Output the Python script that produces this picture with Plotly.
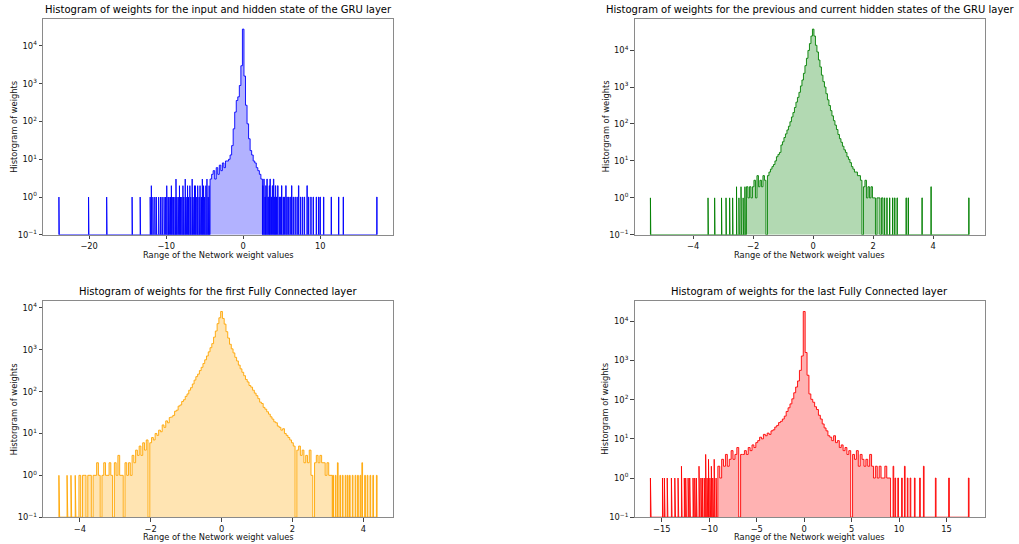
import math
import plotly.graph_objects as go

# ---------------------------------------------------------------------------
# Histogram counts per layer.  Each layer has a contiguous run of bins
# (centre of first bin, bin width, counts) and a set of isolated narrow bins
# in the sparse tails.
# ---------------------------------------------------------------------------

# GRU layer, input and hidden state weights (blue)
GRU_IH_START = -4.2
GRU_IH_WIDTH = 0.2
GRU_IH_COUNTS = [
    3, 4, 5, 3, 6, 4, 7, 5, 8, 6,
    9, 9, 10, 13, 23, 64, 178, 360, 450, 900,
    3000,
    28000,
    1600, 270, 87, 35, 17, 13, 9, 8, 6, 5,
    4, 3,
]
GRU_IH_OUT_X = [
    -23.9, -20.05, -17.7, -14.4, -13.35, -12.05, -11.9, -11.7, -11.45,
    -11.25, -10.95, -10.7, -10.5, -10.25, -10.05, -9.9, -9.72, -9.6, -9.42,
    -9.3, -9.12, -9.0, -8.82, -8.7, -8.58, -8.4, -8.25, -8.12, -7.95, -7.8,
    -7.68, -7.5, -7.38, -7.2, -7.08, -6.9, -6.78, -6.6, -6.48, -6.3, -6.18,
    -6.0, -5.88, -5.7, -5.58, -5.4, -5.28, -5.12, -4.98, -4.82, -4.68,
    -4.52, -4.4,
    2.55, 2.7, 2.85, 2.95, 3.1, 3.25, 3.4, 3.5, 3.65, 3.8, 3.95, 4.1,
    4.2, 4.35, 4.5, 4.7, 4.85, 5.0, 5.2, 5.35, 5.55, 5.7, 5.9, 6.1, 6.3,
    6.5, 6.75, 7.0, 7.2, 7.45, 7.7, 7.95, 8.3, 8.5, 8.8, 9.1, 9.5, 9.8,
    10.0, 10.45, 11.44, 12.4, 13.0, 17.36,
]
GRU_IH_OUT_N = [
    1, 1, 1, 1, 1, 1, 2, 1, 1,
    1, 1, 1, 1, 1, 1, 2, 1, 1, 1,
    2, 1, 1, 1, 3, 1, 1, 2, 1, 1, 2,
    1, 3, 1, 2, 1, 2, 1, 3, 1, 2, 2,
    1, 2, 1, 2, 1, 3, 2, 1, 2, 3,
    1, 2,
    2, 3, 1, 2, 3, 1, 2, 3, 1, 2, 3, 1,
    2, 1, 2, 1, 1, 2, 1, 1, 2, 1, 1, 1, 2,
    1, 1, 1, 2, 1, 1, 1, 2, 1, 1, 1, 1, 1,
    1, 1, 1, 1, 1, 1,
]
GRU_IH_OUT_WIDTH = 0.05

# GRU layer, previous and current hidden state weights (green)
GRU_HH_START = -2.2
GRU_HH_WIDTH = 0.05
GRU_HH_COUNTS = [
    2, 1, 2, 1, 2, 3, 1, 4, 2, 3, 2, 4, 3, 0,
    4, 5, 6, 7, 8, 10, 13, 15, 17, 27, 33,
    43, 54, 69, 87, 115, 155, 204, 280, 390, 525,
    720, 1070, 1550, 2350, 3800, 6000, 9800, 15000, 24000,
    37000,
    24000, 13500, 8900, 5400, 3500, 2100, 1400, 1000, 660, 450,
    316, 230, 166, 123, 93, 71, 52, 40, 32, 25,
    20, 17, 13, 11, 9, 7, 6, 5, 5, 4,
    4, 3, 0, 2, 3, 1, 2, 1, 2, 1,
    1, 0, 1, 1, 0, 1,
]
GRU_HH_OUT_X = [-5.42, -3.50, -3.28, -3.05, -2.90, -2.78, -2.68, -2.55,
                -2.47, -2.40, -2.33, -2.27, 2.38, 2.46, 2.55, 2.65, 2.72,
                2.80, 3.10, 3.17, 3.63, 3.93, 5.19]
GRU_HH_OUT_N = [1, 1, 1, 1, 1, 1, 1, 2, 1, 2, 1, 2,
                1, 1, 1, 1, 1, 1, 1, 1, 1, 2, 1]
GRU_HH_OUT_WIDTH = 0.012

# First fully connected layer (orange)
FC1_START = -4.0
FC1_WIDTH = 0.05
FC1_COUNTS = [
    1, 0, 1, 1, 0, 1, 1, 0, 1, 1, 2, 1, 0, 1, 2, 1, 1, 2, 1, 0,
    2, 1, 3, 1,
    1, 0, 2, 1, 2, 1, 3, 2, 4, 3,
    5, 3, 6, 4, 7, 0, 6, 8, 7, 10,
    9, 12, 11, 16, 14, 20, 18, 24, 25, 27,
    34, 36, 45, 48, 58, 64, 77, 88, 108, 124,
    152, 188, 228, 262, 318, 380, 468, 575, 710, 890,
    1120, 1400, 2000, 2800, 4200, 5800,
    8200,
    5600, 4100, 2700, 1900, 1350, 1050, 840, 660, 540, 430,
    350, 290, 240, 195, 170, 140, 128, 108, 92, 80,
    68, 56, 52, 42, 38, 33, 29, 25, 22, 19,
    18, 15, 14, 12, 13, 10, 9, 8, 7, 6,
    5, 0, 4, 5, 3, 4, 2, 3, 2, 4,
    1, 0, 2, 3, 2, 3, 2, 2, 1, 2,
    1, 1,
]
FC1_OUT_X = [-4.58, -4.35, -4.24, -4.12, 3.15, 3.22, 3.28, 3.35, 3.42, 3.50,
             3.56, 3.62, 3.70, 3.78, 3.85, 3.92, 3.97, 4.05, 4.12, 4.20,
             4.28, 4.38]
FC1_OUT_N = [1, 1, 1, 1, 1, 1, 2, 1, 1, 1,
             1, 1, 1, 1, 1, 1, 2, 1, 1, 1,
             1, 1]
FC1_OUT_WIDTH = 0.02

# Last fully connected layer (red)
FC2_START = -9.0
FC2_WIDTH = 0.2
FC2_COUNTS = [
    2, 1, 3, 2, 4, 2, 3, 5, 3, 4,
    6, 0, 4, 4, 5, 4, 6, 5, 7, 6,
    8, 9, 11, 10, 13, 12, 14, 13, 16, 17,
    20, 22, 26, 28, 32, 38, 50, 62, 78, 105,
    150, 210, 300, 560, 1300,
    17800,
    1600, 420, 140, 102, 86, 66, 56, 40, 32, 24,
    19, 16, 12, 11, 9, 12, 8, 9, 6, 7,
    5, 6, 4, 5, 0, 4, 3, 5, 2, 4,
    3, 2, 3, 2, 4, 2, 1, 2, 1, 2,
    1, 1, 2, 1, 1,
]
FC2_OUT_X = [-16.17, -14.9, -14.7, -14.4, -13.96, -13.6, -13.26, -12.9,
             -12.6, -12.45, -12.2, -12.03, -11.68, -11.5, -11.33, -11.05,
             -10.85, -10.7, -10.5, -10.35, -10.2, -10.05, -9.9, -9.75,
             -9.6, -9.45, -9.25,
             9.4, 9.6, 9.9, 10.3, 10.6, 10.9, 11.2, 11.65, 12.2, 12.6,
             13.86, 15.26, 17.34]
FC2_OUT_N = [1, 1, 1, 1, 1, 1, 1, 2, 1, 1, 1, 1, 1, 1, 1, 2,
             1, 1, 1, 4, 1, 3, 1, 2, 1, 3, 1,
             2, 1, 1, 1, 2, 1, 1, 1, 1, 2, 1, 1, 1]
FC2_OUT_WIDTH = 0.07

# Tick labels
X_TICKS_GRU_IH = [-20, -10, 0, 10]
X_TICKS_GRU_HH = [-4, -2, 0, 2, 4]
X_TICKS_FC1 = [-4, -2, 0, 2, 4]
X_TICKS_FC2 = [-15, -10, -5, 0, 5, 10, 15]
Y_TICK_VALUES = [0.1, 1, 10, 100, 1000, 10000]
Y_TICK_TEXT = ["10<sup>\u22121</sup>", "10<sup>0</sup>", "10<sup>1</sup>",
               "10<sup>2</sup>", "10<sup>3</sup>", "10<sup>4</sup>"]

TITLES = [
    "Histogram of weights for the input and hidden state of the GRU layer",
    "Histogram of weights for the previous and current hidden states of the GRU layer",
    "Histogram of weights for the first Fully Connected layer",
    "Histogram of weights for the last Fully Connected layer",
]
X_LABEL = "Range of the Network weight values"
Y_LABEL = "Historgram of weights"

FLOOR = 0.1  # bottom of the log axis; empty bins fall to it

# ---------------------------------------------------------------------------
W, H = 1019, 544


def px_domain(a, b, total):
    return [a / total, b / total]


# subplot boxes in pixels: (left, right, top, bottom)
BOXES = [
    (43, 393, 19, 237),
    (634.5, 985, 19, 237),
    (43, 393, 304, 522),
    (634.5, 985, 304, 522),
]

PANELS = [
    dict(start=GRU_IH_START, width=GRU_IH_WIDTH, counts=GRU_IH_COUNTS,
         out_x=GRU_IH_OUT_X, out_n=GRU_IH_OUT_N, out_w=GRU_IH_OUT_WIDTH,
         ticks=X_TICKS_GRU_IH, rgb=(0, 0, 255)),
    dict(start=GRU_HH_START, width=GRU_HH_WIDTH, counts=GRU_HH_COUNTS,
         out_x=GRU_HH_OUT_X, out_n=GRU_HH_OUT_N, out_w=GRU_HH_OUT_WIDTH,
         ticks=X_TICKS_GRU_HH, rgb=(0, 128, 0)),
    dict(start=FC1_START, width=FC1_WIDTH, counts=FC1_COUNTS,
         out_x=FC1_OUT_X, out_n=FC1_OUT_N, out_w=FC1_OUT_WIDTH,
         ticks=X_TICKS_FC1, rgb=(255, 165, 0)),
    dict(start=FC2_START, width=FC2_WIDTH, counts=FC2_COUNTS,
         out_x=FC2_OUT_X, out_n=FC2_OUT_N, out_w=FC2_OUT_WIDTH,
         ticks=X_TICKS_FC2, rgb=(255, 0, 0)),
]


def collect_bins(p):
    bins = []
    for i, c in enumerate(p["counts"]):
        centre = p["start"] + i * p["width"]
        bins.append((centre - p["width"] / 2, centre + p["width"] / 2, c))
    for x, n in zip(p["out_x"], p["out_n"]):
        bins.append((x - p["out_w"] / 2, x + p["out_w"] / 2, n))
    bins.sort(key=lambda b: b[0])
    return bins


def step_path(bins):
    xs, ys = [], []
    prev_right = None
    for left, right, c in bins:
        h = c if c > 0 else FLOOR
        if prev_right is None:
            xs.append(left)
            ys.append(FLOOR)
        elif left > prev_right + 1e-9:
            xs += [prev_right, left]
            ys += [FLOOR, FLOOR]
        xs += [left, right]
        ys += [h, h]
        prev_right = right
    xs.append(prev_right)
    ys.append(FLOOR)
    return xs, ys


def fmt_tick(v):
    return ("\u2212" + str(abs(v))) if v < 0 else str(v)


fig = go.Figure()
annotations = []
axis_line = "#8a8a8a"

for k, (p, box) in enumerate(zip(PANELS, BOXES)):
    n = "" if k == 0 else str(k + 1)
    bins = collect_bins(p)
    xs, ys = step_path(bins)
    r, g, b = p["rgb"]
    fig.add_trace(go.Scatter(
        x=xs, y=ys, mode="lines", fill="toself",
        fillcolor=f"rgba({r},{g},{b},0.3)",
        line=dict(color=f"rgba({r},{g},{b},0.9)", width=1),
        xaxis="x" + n, yaxis="y" + n, hoverinfo="skip", showlegend=False,
    ))

    lo = min(bb[0] for bb in bins)
    hi = max(bb[1] for bb in bins)
    pad = 0.05 * (hi - lo)
    top = math.log10(max(bb[2] for bb in bins))
    top += 0.05 * (top - math.log10(FLOOR))

    left, right, ytop, ybot = box
    xdom = px_domain(left, right, W)
    ydom = [1 - ybot / H, 1 - ytop / H]

    common = dict(showline=True, linecolor=axis_line, linewidth=1, mirror=True,
                  ticks="outside", ticklen=3.5, tickwidth=1, tickcolor="#444",
                  showgrid=False, zeroline=False,
                  tickfont=dict(size=8.3, color="#111", family="DejaVu Sans"))
    fig.update_layout(**{
        "xaxis" + n: dict(domain=xdom, anchor="y" + n,
                          range=[lo - pad, hi + pad],
                          tickvals=p["ticks"],
                          ticktext=[fmt_tick(v) for v in p["ticks"]],
                          **common),
        "yaxis" + n: dict(domain=ydom, anchor="x" + n, type="log",
                          range=[math.log10(FLOOR), top],
                          tickvals=Y_TICK_VALUES, ticktext=Y_TICK_TEXT,
                          **common),
    })

    xc = (xdom[0] + xdom[1]) / 2
    annotations.append(dict(text=TITLES[k], x=xc, y=ydom[1], xref="paper",
                            yref="paper", xanchor="center", yanchor="bottom",
                            yshift=2, showarrow=False,
                            font=dict(size=10, color="#000")))
    annotations.append(dict(text=X_LABEL, x=xc, y=ydom[0], xref="paper",
                            yref="paper", xanchor="center", yanchor="top",
                            yshift=-13, showarrow=False,
                            font=dict(size=8.3, color="#111")))
    annotations.append(dict(text=Y_LABEL, x=xdom[0],
                            y=(ydom[0] + ydom[1]) / 2, xref="paper",
                            yref="paper", xanchor="center", yanchor="middle",
                            xshift=-29, textangle=-90, showarrow=False,
                            font=dict(size=8.3, color="#111")))

fig.update_layout(
    width=W, height=H,
    margin=dict(l=0, r=0, t=0, b=0),
    paper_bgcolor="white", plot_bgcolor="white",
    font=dict(family="DejaVu Sans"),
    showlegend=False,
    annotations=annotations,
)

fig.write_html("out.html", config={"displayModeBar": False})
